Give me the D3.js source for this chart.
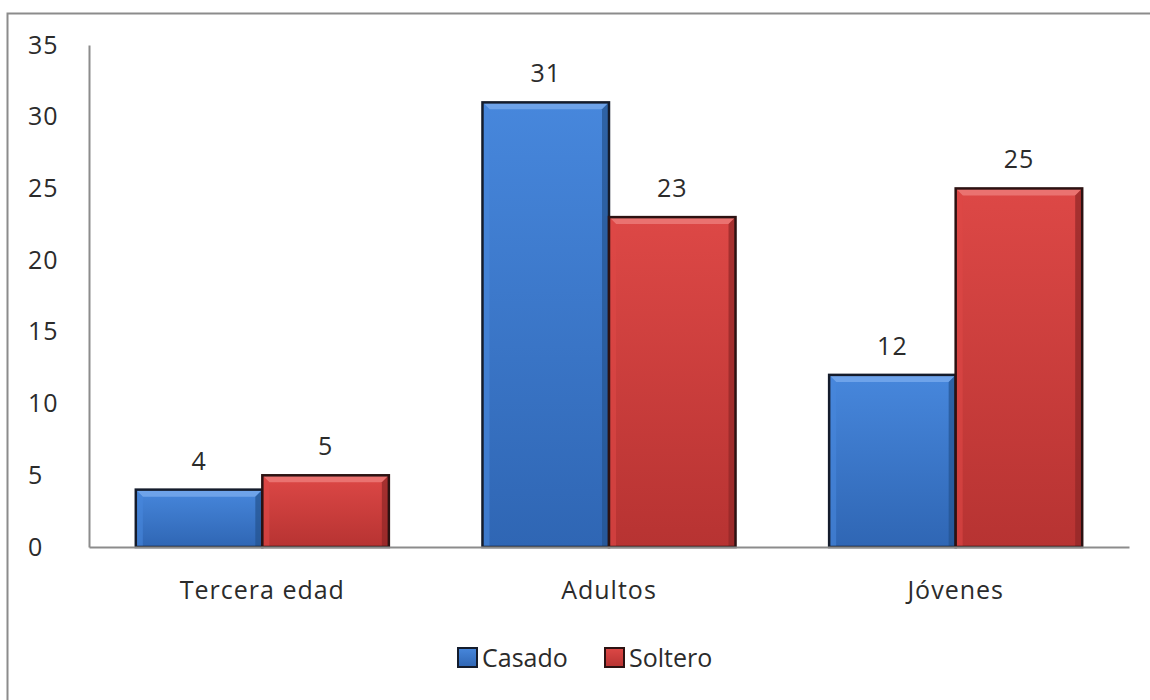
<!DOCTYPE html>
<html>
<head>
<meta charset="utf-8">
<script src="https://cdn.jsdelivr.net/npm/d3@7"></script>
<style>
  html, body { margin: 0; padding: 0; background: #fff; }
  svg { display: block; font-family: "Open Sans", "DejaVu Sans", sans-serif; }
</style>
</head>
<body>
<svg id="chart" width="1150" height="700"></svg>
<script>
// Group counts by age bracket and marital status
const categories = ["Tercera edad", "Adultos", "Jóvenes"];
const seriesNames = ["Casado", "Soltero"];
const casado = [4, 31, 12];
const soltero = [5, 23, 25];
const yTicks = [0, 5, 10, 15, 20, 25, 30, 35];

const svg = d3.select("#chart");
const W = 1150, H = 700;
const margin = { left: 89, right: 21, top: 45, bottom: 153 };
const FONT = "'Open Sans', 'DejaVu Sans', sans-serif";
const FS = 25;
const TXT = "#2b2b2b";

// Outer frame
svg.append("rect")
  .attr("x", 7.5).attr("y", 13.5)
  .attr("width", W + 10).attr("height", H + 10)
  .attr("fill", "none").attr("stroke", "#8c8c8c").attr("stroke-width", 2);

const x0 = d3.scaleBand()
  .domain(categories)
  .range([margin.left, W - margin.right])
  .paddingInner(0.27).paddingOuter(0.135);
const x1 = d3.scaleBand()
  .domain(seriesNames)
  .range([0, x0.bandwidth()]);
const y = d3.scaleLinear()
  .domain([0, 35])
  .range([H - margin.bottom, margin.top]);

const palette = {
  Casado:  { top: "#4787dc", bottom: "#2f66b4", light: "#76a8ec", dark: "#24528f", edge: "#141c2c" },
  Soltero: { top: "#dd4846", bottom: "#b73332", light: "#ec7a78", dark: "#8f2727", edge: "#2c1212" }
};

const defs = svg.append("defs");
seriesNames.forEach(s => {
  const g = defs.append("linearGradient").attr("id", "g-" + s)
    .attr("x1", 0).attr("y1", 0).attr("x2", 0).attr("y2", 1);
  g.append("stop").attr("offset", "0%").attr("stop-color", palette[s].top);
  g.append("stop").attr("offset", "100%").attr("stop-color", palette[s].bottom);
});

// Y axis
const yAxis = d3.axisLeft(y).tickValues(yTicks).tickSize(0).tickPadding(0);
const ya = svg.append("g").attr("transform", `translate(${margin.left},0)`).call(yAxis);
ya.select(".domain").attr("stroke", "#8c8c8c").attr("stroke-width", 2);
ya.selectAll("text")
  .attr("x", -61).attr("text-anchor", "start")
  .attr("font-size", FS).attr("fill", TXT).attr("font-family", FONT)
  .attr("letter-spacing", 1);

// Bars
const rows = categories.map((c, i) => ({ cat: c, values: [
  { s: "Casado", v: casado[i] }, { s: "Soltero", v: soltero[i] }
]}));

const groups = svg.append("g").selectAll("g").data(rows).join("g")
  .attr("transform", d => `translate(${x0(d.cat)},0)`);

const bars = groups.selectAll("g.bar").data(d => d.values).join("g").attr("class", "bar");

bars.each(function(d) {
  const g = d3.select(this);
  const bx = x1(d.s), bw = x1.bandwidth();
  const by = y(d.v), bh = y(0) - y(d.v);
  const p = palette[d.s];
  const b = Math.min(7, bh / 2);
  g.append("rect").attr("x", bx).attr("y", by).attr("width", bw).attr("height", bh)
    .attr("fill", `url(#g-${d.s})`);
  // bevel faces
  g.append("path")
    .attr("d", `M${bx},${by}L${bx + bw},${by}L${bx + bw - b},${by + b}L${bx + b},${by + b}Z`)
    .attr("fill", p.light).attr("opacity", 0.85);
  g.append("path")
    .attr("d", `M${bx},${by}L${bx + b},${by + b}L${bx + b},${by + bh}L${bx},${by + bh}Z`)
    .attr("fill", p.top).attr("opacity", 0.6);
  g.append("path")
    .attr("d", `M${bx + bw},${by}L${bx + bw - b},${by + b}L${bx + bw - b},${by + bh}L${bx + bw},${by + bh}Z`)
    .attr("fill", p.dark).attr("opacity", 0.7);
  g.append("rect").attr("x", bx).attr("y", by).attr("width", bw).attr("height", bh)
    .attr("fill", "none").attr("stroke", p.edge).attr("stroke-width", 2.5);
  // value label
  g.append("text")
    .attr("x", bx + bw / 2).attr("y", by - 20)
    .attr("text-anchor", "middle").attr("font-size", FS).attr("fill", TXT)
    .attr("letter-spacing", 1)
    .text(d.v);
});

// X axis
const xAxis = d3.axisBottom(x0).tickSize(0).tickPadding(0);
const xa = svg.append("g").attr("transform", `translate(0,${y(0)})`).call(xAxis);
xa.select(".domain").attr("stroke", "#8c8c8c").attr("stroke-width", 2);
xa.selectAll("text")
  .attr("y", 52).attr("dy", 0)
  .attr("font-size", FS).attr("fill", TXT).attr("font-family", FONT)
  .attr("letter-spacing", 1);

// Legend
const legendPos = [{ s: "Casado", x: 458 }, { s: "Soltero", x: 605 }];
const lg = svg.append("g").selectAll("g").data(legendPos).join("g")
  .attr("transform", d => `translate(${d.x},648)`);
lg.append("rect").attr("width", 19).attr("height", 19)
  .attr("fill", d => `url(#g-${d.s})`)
  .attr("stroke", d => palette[d.s].edge).attr("stroke-width", 2);
lg.append("text").attr("x", 24).attr("y", 19)
  .attr("font-size", FS).attr("fill", TXT)
  .text(d => d.s);
</script>
</body>
</html>
